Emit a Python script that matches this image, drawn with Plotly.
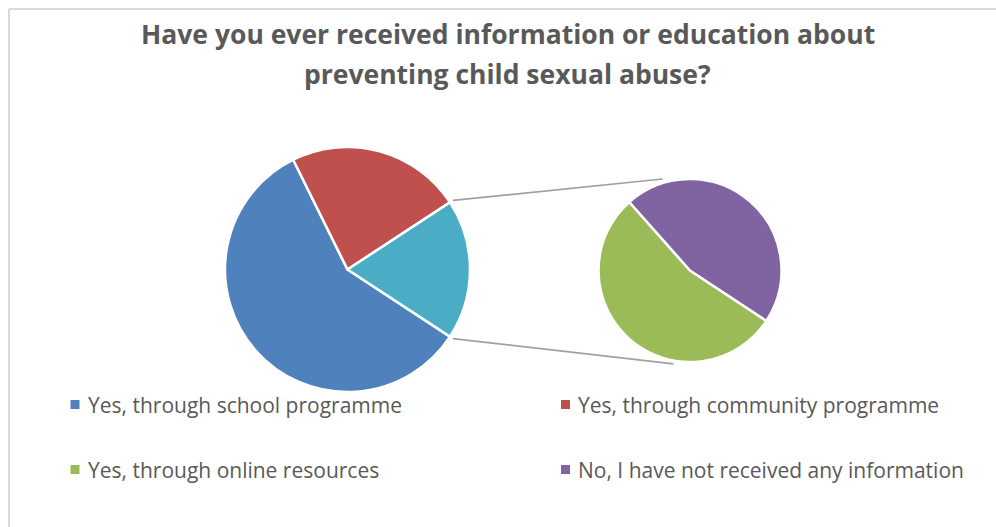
import plotly.graph_objects as go
import math

# Survey responses (counts)
categories = ["Yes, through school programme", "Yes, through community programme",
              "Yes, through online resources", "No, I have not received any information"]
counts = [76, 30, 13, 11]
colors = ["#4F81BD", "#C0504D", "#9BBB59", "#8064A2"]
other_color = "#4BACC6"

# Primary pie: first two answers plus the combined remainder; secondary pie splits the remainder
main_labels = categories[:2] + ["Other"]
main_values = counts[:2] + [sum(counts[2:])]
main_colors = colors[:2] + [other_color]
sub_labels = categories[2:]
sub_values = counts[2:]
sub_colors = colors[2:]

W, H = 996, 527
TEXT = "#595959"
FONT = "Open Sans"


def px(x):
    return x / W


def py(y):
    return 1 - y / H


# pie geometry in pixels (center, radius)
MC, MR = (347.5, 269.5), 122.5
SC, SR = (690.0, 270.5), 91.5

# the combined slice is centred on the 3 o'clock direction
total = sum(main_values)
other_span = 360 * main_values[-1] / total
main_rot = 90 + other_span / 2
sub_rot = main_rot + 0.2

fig = go.Figure()
fig.add_trace(go.Pie(
    labels=main_labels, values=main_values, sort=False, direction="clockwise",
    rotation=main_rot, textinfo="none", hoverinfo="label+value+percent",
    marker=dict(colors=main_colors, line=dict(color="white", width=2.5)),
    domain=dict(x=[px(MC[0] - MR), px(MC[0] + MR)], y=[py(MC[1] + MR), py(MC[1] - MR)]),
    showlegend=False,
))
fig.add_trace(go.Pie(
    labels=sub_labels, values=sub_values, sort=False, direction="clockwise",
    rotation=sub_rot, textinfo="none", hoverinfo="label+value+percent",
    marker=dict(colors=sub_colors, line=dict(color="white", width=2.5)),
    domain=dict(x=[px(SC[0] - SR), px(SC[0] + SR)], y=[py(SC[1] + SR), py(SC[1] - SR)]),
    showlegend=False,
))

shapes = []
# connector lines from the edges of the combined slice to the secondary pie
a1 = math.radians(90 - other_span / 2)
a2 = math.radians(90 + other_span / 2)
rr = MR + 3.5
p_top = (MC[0] + rr * math.sin(a1), MC[1] - rr * math.cos(a1))
p_bot = (MC[0] + rr * math.sin(a2), MC[1] - rr * math.cos(a2))
q_top = (SC[0] - 0.30 * SR, SC[1] - SR * 1.0)
q_bot = (SC[0] - 0.18 * SR, SC[1] + SR * 1.02)
for p, q in [(p_top, q_top), (p_bot, q_bot)]:
    shapes.append(dict(type="line", xref="paper", yref="paper",
                       x0=px(p[0]), y0=py(p[1]), x1=px(q[0]), y1=py(q[1]),
                       line=dict(color="#A0A0A0", width=1.75)))

# chart area border (top and left edges)
shapes.append(dict(type="line", xref="paper", yref="paper", x0=px(9), y0=py(9), x1=1, y1=py(9),
                   line=dict(color="#D9D9D9", width=2)))
shapes.append(dict(type="line", xref="paper", yref="paper", x0=px(9), y0=py(9), x1=px(9), y1=0,
                   line=dict(color="#D9D9D9", width=2)))

annotations = []
# title
title_lines = ["Have you ever received information or education about",
               "preventing child sexual abuse?"]
for line, yc in zip(title_lines, [34.5, 74]):
    annotations.append(dict(text=f"<b>{line}</b>", x=px(507.5), y=py(yc), xref="paper", yref="paper",
                            xanchor="center", yanchor="middle", showarrow=False,
                            font=dict(family=FONT, size=26.5, color=TEXT)))

# legend: two columns, two rows
legend_pos = [(75, 404.5), (565.5, 404.5), (75, 469.5), (565.5, 469.5)]
for label, color, (lx, ly) in zip(categories, colors, legend_pos):
    shapes.append(dict(type="rect", xref="paper", yref="paper",
                       x0=px(lx - 4.5), x1=px(lx + 4.5), y0=py(ly + 4.5), y1=py(ly - 4.5),
                       fillcolor=color, line=dict(width=0)))
    annotations.append(dict(text=label, x=px(lx + 10.5), y=py(ly), xref="paper", yref="paper",
                            xanchor="left", yanchor="middle", showarrow=False,
                            font=dict(family=FONT, size=21, color=TEXT)))

fig.update_layout(
    width=W, height=H, margin=dict(l=0, r=0, t=0, b=0),
    paper_bgcolor="white", plot_bgcolor="white",
    shapes=shapes, annotations=annotations,
)

fig.write_html("out.html")
